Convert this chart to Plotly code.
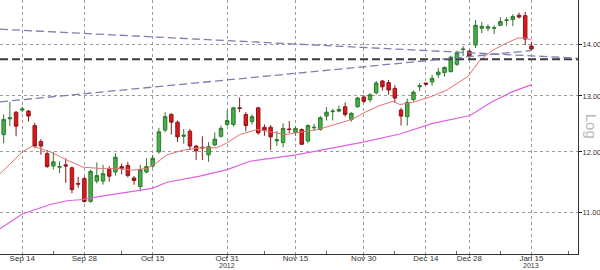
import plotly.graph_objects as go

# trading-day index (0 = Sep 14 2012)
idx = list(range(-3, 83))
opens = [12.30, 12.58, 12.70, 12.74, 12.72, 12.46, 12.18, 11.97, 11.76, 11.74,
         11.78, 11.73, 11.47, 11.55, 11.18, 11.51, 11.51, 11.70, 11.66, 11.75,
         11.77, 11.56, 11.42, 11.66, 11.76, 12.00, 12.38, 12.66, 12.52, 12.27,
         12.36, 12.10, 12.08, 11.95, 12.12, 12.27, 12.48, 12.48, 12.78, 12.66,
         12.53, 12.78, 12.43, 12.43, 12.19, 12.16, 12.40, 12.34, 12.39, 12.19,
         12.42, 12.39, 12.63, 12.71, 12.72, 12.80, 12.57, 12.80, 12.98, 12.93,
         13.06, 13.28, 13.25, 13.14, 12.74, 12.62, 12.93, 13.17, 13.24, 13.26,
         13.40, 13.44, 13.46, 13.60, 13.89, 13.86, 13.98, 14.32, 14.32, 14.32,
         14.38, 14.48, 14.50, 14.59, 14.58, 13.96]
highs = [12.66, 12.89, 12.72, 12.80, 12.74, 12.51, 12.22, 12.03, 12.00, 11.84,
         11.89, 11.75, 11.58, 11.58, 11.70, 11.82, 11.78, 11.76, 11.98, 11.80,
         11.83, 11.59, 11.78, 11.89, 11.95, 12.42, 12.70, 12.68, 12.55, 12.40,
         12.40, 12.12, 12.27, 12.17, 12.34, 12.46, 12.74, 12.80, 12.97, 12.70,
         12.66, 12.80, 12.48, 12.47, 12.36, 12.50, 12.54, 12.45, 12.41, 12.48,
         12.49, 12.63, 12.79, 12.76, 12.82, 12.88, 12.70, 12.98, 13.02, 13.05,
         13.28, 13.30, 13.30, 13.20, 12.78, 12.95, 13.10, 13.24, 13.25, 13.40,
         13.53, 13.56, 13.77, 13.87, 13.96, 13.88, 14.49, 14.45, 14.40, 14.38,
         14.55, 14.55, 14.61, 14.64, 14.66, 14.04]
lows = [12.15, 12.45, 12.27, 12.70, 12.53, 12.07, 11.95, 11.73, 11.70, 11.64,
        11.48, 11.31, 11.40, 11.16, 11.16, 11.47, 11.45, 11.50, 11.60, 11.62,
        11.57, 11.45, 11.34, 11.64, 11.73, 11.97, 12.34, 12.30, 12.17, 12.14,
        12.03, 11.86, 11.86, 11.83, 12.10, 12.25, 12.45, 12.44, 12.70, 12.36,
        12.48, 12.30, 12.28, 12.03, 12.10, 12.08, 12.33, 12.28, 12.12, 12.15,
        12.37, 12.37, 12.55, 12.55, 12.70, 12.62, 12.53, 12.78, 12.87, 12.88,
        13.02, 13.10, 13.02, 12.87, 12.46, 12.46, 12.90, 13.09, 13.20, 13.19,
        13.34, 13.36, 13.44, 13.57, 13.76, 13.72, 13.92, 14.22, 14.26, 14.20,
        14.36, 14.36, 14.36, 14.52, 13.98, 13.88]
closes = [12.57, 12.60, 12.45, 12.76, 12.63, 12.10, 12.10, 11.75, 11.83, 11.75,
          11.76, 11.37, 11.46, 11.18, 11.67, 11.60, 11.63, 11.59, 11.91, 11.72,
          11.60, 11.52, 11.70, 11.75, 11.89, 12.35, 12.62, 12.52, 12.26, 12.29,
          12.10, 12.02, 12.07, 12.09, 12.22, 12.41, 12.55, 12.78, 12.77, 12.46,
          12.62, 12.33, 12.38, 12.26, 12.21, 12.41, 12.39, 12.41, 12.13, 12.46,
          12.43, 12.60, 12.70, 12.72, 12.75, 12.66, 12.68, 12.96, 12.90, 13.02,
          13.24, 13.17, 13.11, 12.96, 12.63, 12.88, 13.07, 13.19, 13.22, 13.33,
          13.45, 13.54, 13.74, 13.83, 13.90, 13.76, 14.38, 14.36, 14.35, 14.33,
          14.46, 14.49, 14.56, 14.55, 14.10, 13.90]

tick_idx = [0, 10, 21, 33, 44, 55, 65, 72, 82]
tick_text = ["Sep 14", "Sep 28", "Oct 15", "Oct 31", "Nov 15",
             "Nov 30", "Dec 14", "Dec 28", "Jan 15"]
year_idx = [33, 82]
year_text = ["2012", "2013"]
minor_idx = [5, 16, 39, 49, 60, 70, 77, 88]
y_ticks = [11, 12, 13, 14]
y_text = ["11.00", "12.00", "13.00", "14.00"]

# short moving average (red)
ma_fast_x = [-3.6, 0, 1.6, 4.5, 7.2, 9.8, 12.5, 15.2, 17.8, 20.1, 21.7, 23.3,
             25.9, 28.6, 31.3, 32.9, 35, 37.8, 39.9, 42.3, 47.6, 50.4, 53.1,
             55.2, 57.3, 59.7, 60.8, 62.9, 65.7, 68.4, 71.8, 73.7, 75.8, 78.0,
             79.8, 81, 82]
ma_fast_y = [11.63, 12.00, 12.10, 12.00, 11.86, 11.74, 11.72, 11.72, 11.69,
             11.72, 11.82, 11.95, 12.03, 12.07, 12.07, 12.15, 12.30, 12.39,
             12.35, 12.30, 12.39, 12.48, 12.57, 12.70, 12.81, 12.90, 12.84,
             12.88, 12.98, 13.11, 13.37, 13.68, 13.88, 14.02, 14.12, 14.12,
             14.08]
# long moving average (magenta)
ma_slow_x = [-3.6, 0, 4.5, 7.2, 9.8, 12.5, 17.8, 20.9, 23.3, 28.6, 33, 36.7,
             44.1, 50.0, 54.9, 60.8, 66.1, 72.1, 75.8, 79.0, 82]
ma_slow_y = [10.75, 10.98, 11.13, 11.19, 11.21, 11.26, 11.34, 11.39, 11.49,
             11.59, 11.70, 11.84, 11.95, 12.07, 12.17, 12.31, 12.50, 12.64,
             12.90, 13.08, 13.21]

x_range = [-3.59, 89.5]
trend_down_x = [-3.59, 89.5]
trend_down_y = [14.30, 13.72]
trend_up_x = [-3.59, 82]
trend_up_y = [12.89, 13.87]
level_y = [13.70, 13.70]

fig = go.Figure()

fig.add_trace(go.Scatter(x=ma_slow_x, y=ma_slow_y, mode="lines",
                         line=dict(color="#e060e0", width=1.2), hoverinfo="skip"))
fig.add_trace(go.Scatter(x=ma_fast_x, y=ma_fast_y, mode="lines",
                         line=dict(color="#e87070", width=1.0), hoverinfo="skip"))
fig.add_trace(go.Scatter(x=x_range, y=level_y, mode="lines",
                         line=dict(color="#3a3a3a", width=2, dash="8px,4px"), hoverinfo="skip"))
fig.add_trace(go.Scatter(x=trend_down_x, y=trend_down_y, mode="lines",
                         line=dict(color="#7c7fb2", width=1.3, dash="8px,4px"), hoverinfo="skip"))
fig.add_trace(go.Scatter(x=trend_up_x, y=trend_up_y, mode="lines",
                         line=dict(color="#7c7fb2", width=1.3, dash="8px,4px"), hoverinfo="skip"))

fig.add_trace(go.Candlestick(
    x=idx, open=opens, high=highs, low=lows, close=closes,
    increasing=dict(fillcolor="#45b045", line=dict(color="#2f7a2f", width=1)),
    decreasing=dict(fillcolor="#e3141c", line=dict(color="#8a1a1a", width=1)),
    whiskerwidth=0, hoverinfo="skip"))

annotations = [dict(text="Log", xref="paper", yref="paper", x=591 / 578, y=0.505,
                    xanchor="center", yanchor="middle",
                    showarrow=False, textangle=90,
                    font=dict(family="Liberation Sans", size=15, color="#b8b8b8"))]
for xi, yt in zip(year_idx, year_text):
    annotations.append(dict(text=yt, x=xi, xref="x", yref="paper", y=-0.044,
                            xanchor="center", yanchor="middle", showarrow=False,
                            font=dict(family="Liberation Sans", size=7, color="#333333")))

fig.update_layout(
    width=600, height=270,
    margin=dict(l=0, r=22, t=0, b=16),
    paper_bgcolor="white", plot_bgcolor="white",
    showlegend=False, boxgap=0.2,
    font=dict(family="Liberation Sans", size=8, color="#333333"),
    xaxis=dict(range=x_range, tickvals=tick_idx, ticktext=tick_text,
               showgrid=True, gridcolor="#9a9a9a", griddash="dot", gridwidth=1,
               showline=True, linecolor="#333333", linewidth=1,
               ticks="outside", ticklen=3, tickcolor="#888888",
               rangeslider=dict(visible=False), zeroline=False,
               automargin=False, ticklabelstandoff=-7,
               minor=dict(tickvals=minor_idx, ticks="inside", ticklen=3,
                          tickcolor="#666666", showgrid=False)),
    yaxis=dict(type="log", side="right",
               range=[1.01578, 1.17348], tickvals=y_ticks, ticktext=y_text,
               tickfont=dict(size=7.5),
               showgrid=True, gridcolor="#9a9a9a", griddash="dot", gridwidth=1,
               showline=True, linecolor="#333333", linewidth=1,
               ticks="outside", ticklen=3, tickcolor="#111111",
               zeroline=False, automargin=False, ticklabelstandoff=-1),
    annotations=annotations,
)

fig.write_html("out.html")
